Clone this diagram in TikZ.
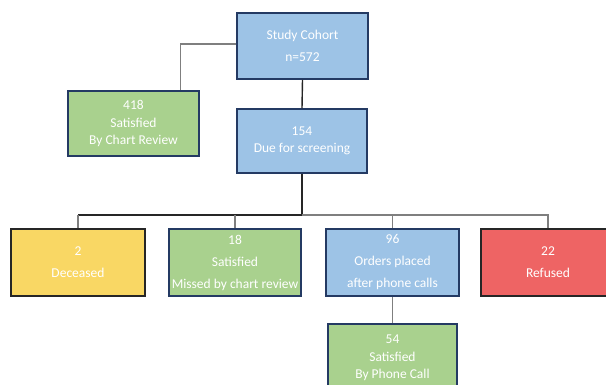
\documentclass[tikz,border=0pt]{standalone}
\usepackage{fontspec}
\setmainfont{Carlito}
\definecolor{bblue}{HTML}{9DC3E6}
\definecolor{bgreen}{HTML}{A9D18E}
\definecolor{byellow}{HTML}{F9D764}
\definecolor{bred}{HTML}{EE6464}
\definecolor{navy}{HTML}{243A63}
\definecolor{lgray}{HTML}{7F7F7F}
\begin{document}
\begin{tikzpicture}[x=1pt,y=-1pt,
  box/.style={draw=navy, line width=1.5pt, rectangle, inner sep=0pt, align=center,
    text=white, font=\fontsize{13.5}{22}\selectfont},
  tight/.style={font=\fontsize{13.5}{17.5}\selectfont},
  blk/.style={draw=black!85, line width=1.4pt},
  gry/.style={draw=lgray, line width=1.1pt}]
\useasboundingbox (0,0) rectangle (606,384);
\node[box, fill=bblue, minimum width=131pt, minimum height=66pt] (coh) at (302.5,46) {Study Cohort\\n=572};
\node[box, tight, fill=bgreen, minimum width=131pt, minimum height=65pt] (sat) at (133.5,123.5) {418\\Satisfied\\By Chart Review};
\node[box, tight, fill=bblue, minimum width=130pt, minimum height=64pt] (due) at (302,141) {154\\Due for screening};
\node[box, fill=byellow, draw=black!85, minimum width=134pt, minimum height=67pt] (dec) at (78,262.5) {2\\Deceased};
\node[box, fill=bgreen, minimum width=132pt, minimum height=67pt] (mis) at (235,262.5) {18\\Satisfied\\Missed by chart review};
\node[box, fill=bblue, minimum width=133pt, minimum height=67pt] (ord) at (392.5,262.5) {96\\Orders placed\\after phone calls};
\node[box, fill=bred, draw=black!85, minimum width=134pt, minimum height=67pt] (ref) at (548,262.5) {22\\Refused};
\node[box, tight, fill=bgreen, minimum width=129pt, minimum height=68pt] (pho) at (392.5,358) {54\\Satisfied\\By Phone Call};
\coordinate (e1) at (180.5,44);
\coordinate (bus) at (303,215);
\draw[gry] (coh.west |- e1) -- (e1) -- (e1 |- sat.north);
\draw[blk] (coh.south) -- (due.north);
\draw[blk] (due.south) |- (dec.north |- bus);
\draw[gry] (dec.north |- bus) -- (dec.north);
\draw[gry] (mis.north |- bus) -- (mis.north);
\draw[gry] (due.south |- bus) -| (ord.north);
\draw[gry] (ord.north |- bus) -| (ref.north);
\draw[gry] (ord.south) -- (pho.north);
\end{tikzpicture}
\end{document}
